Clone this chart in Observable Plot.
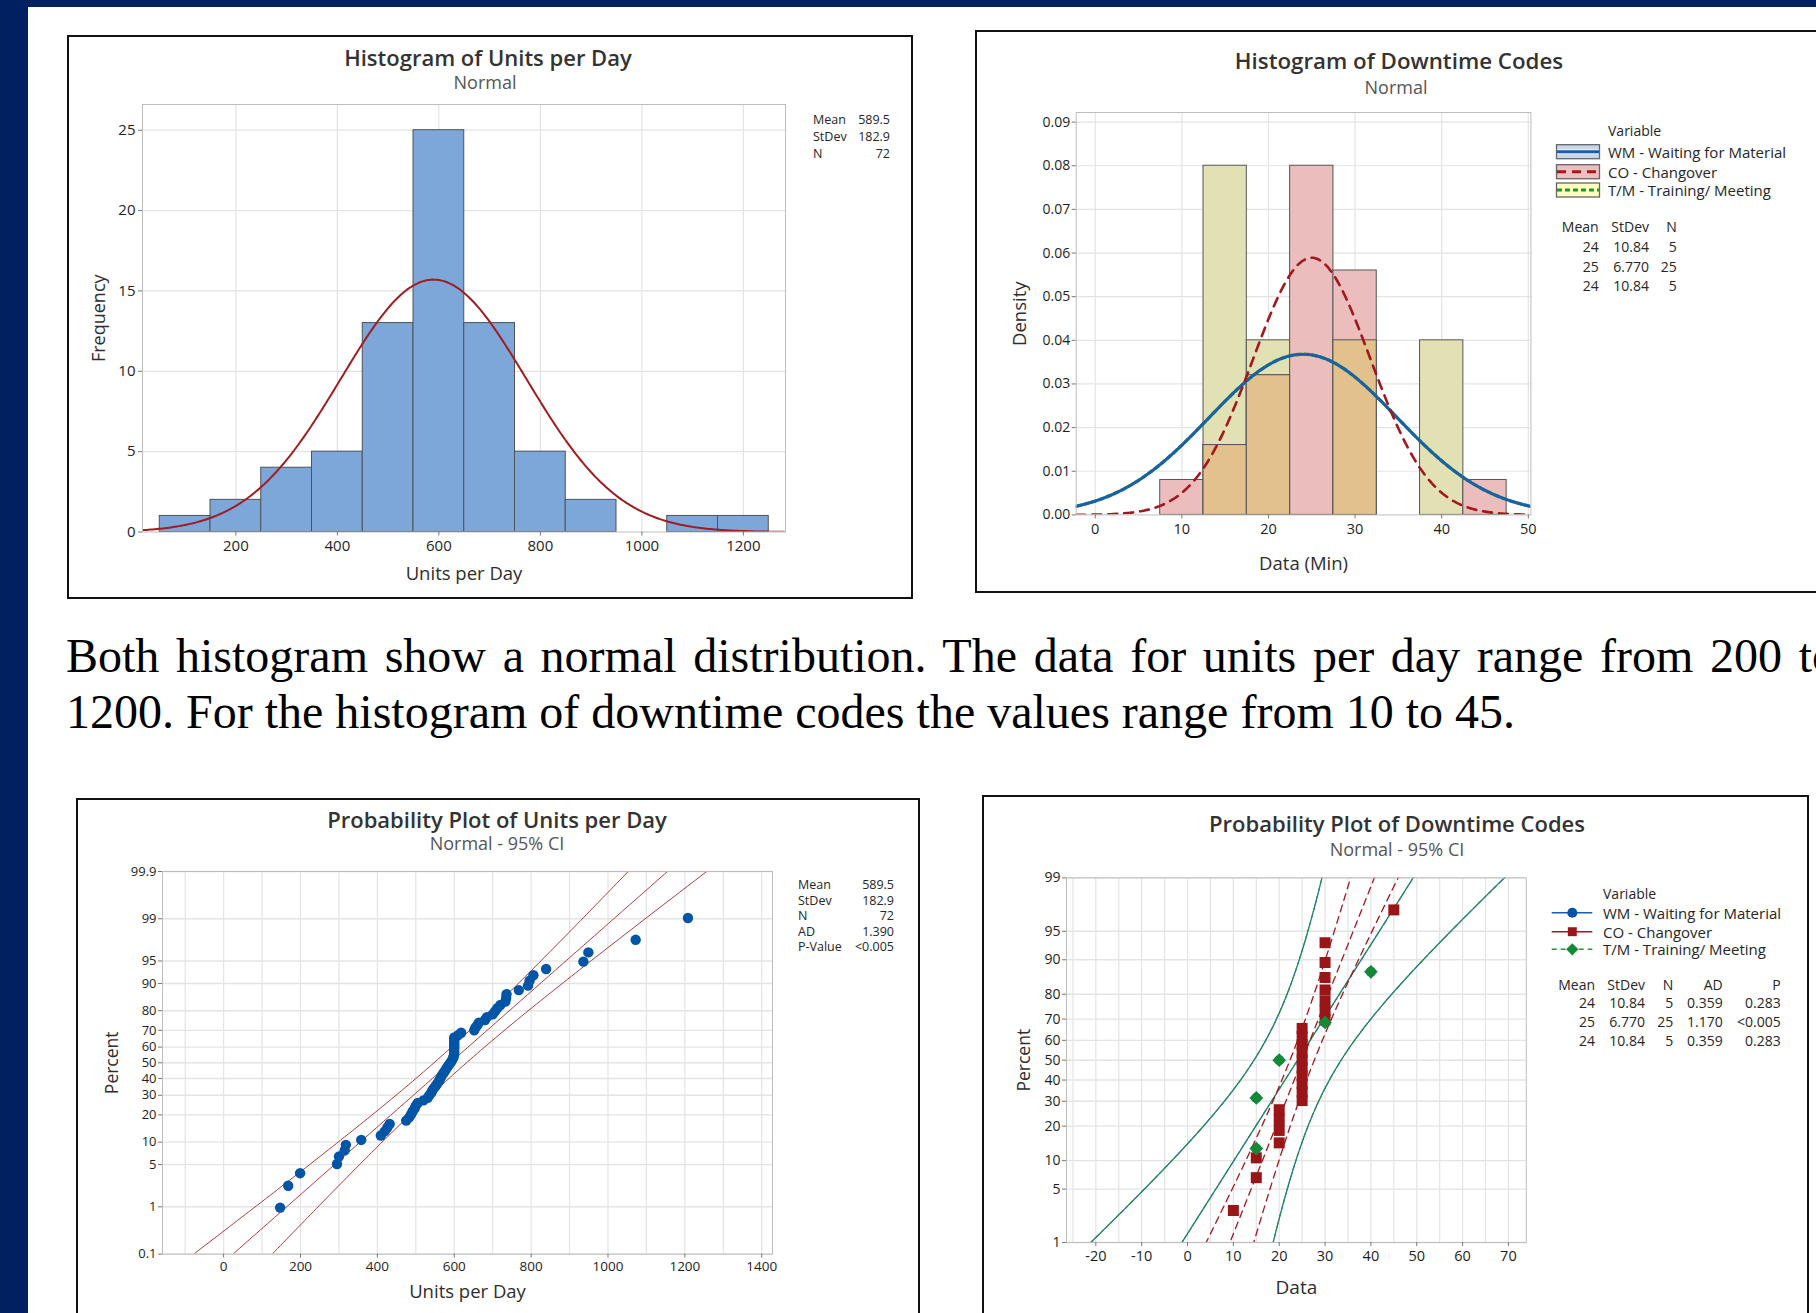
<!DOCTYPE html>
<html><head><meta charset="utf-8">
<script src="https://cdn.jsdelivr.net/npm/d3@7"></script>
<script src="https://cdn.jsdelivr.net/npm/@observablehq/plot@0.6"></script>
<style>
html,body{margin:0;padding:0;width:1816px;height:1313px;overflow:hidden;background:#fff;}
#page{position:relative;width:1816px;height:1313px;overflow:hidden;background:#fff;font-family:"Open Sans",sans-serif;}
.abs{position:absolute;box-sizing:border-box;}
.t{position:absolute;white-space:nowrap;line-height:1;}
#para{position:absolute;left:66px;top:628px;width:1770px;font-family:"Liberation Serif","Times New Roman",serif;font-size:48px;line-height:56px;text-align:justify;color:#000;}
</style></head><body><div id="page"></div>
<script>
// ================= DATA =================
// Histogram of Units per Day
const unitBinCenters = [100,200,300,400,500,600,700,800,900,1000,1100,1200];
const unitBinCounts  = [1,2,4,5,13,25,13,5,2,0,1,1];
const unitBinWidth = 100;
const unitStatLabels = ["Mean","StDev","N"];
const unitStatValues = ["589.5","182.9","72"];
const unitMean = 589.5, unitStDev = 182.9, unitN = 72;
const histXTicks1 = [200,400,600,800,1000,1200];
const histYTicks1 = [0,5,10,15,20,25];

const unitsSorted = [147,168,199,295,300,315,318,358,409,419,426,432,
  475,483,488,492,497,500,505,520,531,535,540,543,547,
  552,556,560,563,566,569,573,577,580,584,588,592,595,
  598,599,600,600,600,600,600,600,600,600,610,618,
  652,655,660,664,680,685,700,706,712,720,733,735,736,
  768,792,796,806,839,936,949,1072,1208];
const ppStatLabels3 = ["Mean","StDev","N","AD","P-Value"];
const ppStatValues3 = ["589.5","182.9","72","1.390","<0.005"];
const ppXTicks3 = [0,200,400,600,800,1000,1200,1400];
const ppXGrid3 = [-100,0,100,200,300,400,500,600,700,800,900,1000,1100,1200,1300,1400];
const probTicks3 = [0.1,1,5,10,20,30,40,50,60,70,80,90,95,99,99.9];

// Downtime codes (minutes)
const dtVariables = ["WM - Waiting for Material","CO - Changover","T/M - Training/ Meeting"];
const wmData = [15,15,20,30,40];
const coData = [10,15,15,20,20,20,20,25,25,25,25,25,25,25,25,25,25,30,30,30,30,30,30,30,45];
const tmData = [15,15,20,30,40];
const dtMeanVals = [24,25,24];
const dtSdVals = [10.84,6.770,10.84];
const dtMeans = ["24","25","24"];
const dtStDevs = ["10.84","6.770","10.84"];
const dtNs = ["5","25","5"];
const dtADs = ["0.359","1.170","0.359"];
const dtPs = ["0.283","<0.005","0.283"];
const dtBinEdges = [7.5,12.5,17.5,22.5,27.5,32.5,37.5,42.5,47.5];
const dtXTicks = [0,10,20,30,40,50];
const dtYTicks = [0,0.01,0.02,0.03,0.04,0.05,0.06,0.07,0.08,0.09];
const ppXTicks4 = [-20,-10,0,10,20,30,40,50,60,70];
const ppXGrid4 = [-25,-20,-15,-10,-5,0,5,10,15,20,25,30,35,40,45,50,55,60,65,70];
const probTicks4 = [1,5,10,20,30,40,50,60,70,80,90,95,99];

const paragraph = "Both histogram show a normal distribution. The data for units per day range from 200 to 1200. For the histogram of downtime codes the values range from 10 to 45.";

// ================= HELPERS =================
const FONT = '"Open Sans", "Noto Sans", sans-serif';
const page = document.getElementById("page");
function box(l,t,w,h,style){const d=document.createElement("div");d.className="abs";Object.assign(d.style,{left:l+"px",top:t+"px",width:w+"px",height:h+"px"},style||{});page.appendChild(d);return d;}
function txt(x,y,s,o={}){const d=document.createElement("div");d.className="t";d.textContent=s;
  const a=o.anchor||"middle";
  Object.assign(d.style,{left:x+"px",top:y+"px",fontSize:(o.size||13)+"px",color:o.color||"#262626",fontWeight:o.weight||400,fontFamily:FONT,
  transform:`translate(${a==="middle"?"-50%":a==="end"?"-100%":"0"},-50%)`});page.appendChild(d);return d;}
function place(svg,l,t){svg.style.position="absolute";svg.style.left=l+"px";svg.style.top=t+"px";page.appendChild(svg);}
function svgBox(l,t,w,h){const s=d3.create("svg").attr("width",w).attr("height",h).style("position","absolute").style("left",l+"px").style("top",t+"px").style("overflow","visible");page.appendChild(s.node());return s;}
const npdf=(x,m,s)=>Math.exp(-0.5*((x-m)/s)**2)/(s*Math.sqrt(2*Math.PI));
function probit(p){
  const a=[-3.969683028665376e+01,2.209460984245205e+02,-2.759285104469687e+02,1.383577518672690e+02,-3.066479806614716e+01,2.506628277459239e+00];
  const b=[-5.447609879822406e+01,1.615858368580409e+02,-1.556989798598866e+02,6.680131188771972e+01,-1.328068155288572e+01];
  const c=[-7.784894002430293e-03,-3.223964580411365e-01,-2.400758277161838e+00,-2.549732539343734e+00,4.374664141464968e+00,2.938163982698783e+00];
  const d=[7.784695709041462e-03,3.224671290700398e-01,2.445134137142996e+00,3.754408661907416e+00];
  const pl=0.02425;let q,r;
  if(p<pl){q=Math.sqrt(-2*Math.log(p));return (((((c[0]*q+c[1])*q+c[2])*q+c[3])*q+c[4])*q+c[5])/((((d[0]*q+d[1])*q+d[2])*q+d[3])*q+1);}
  if(p>1-pl){q=Math.sqrt(-2*Math.log(1-p));return -(((((c[0]*q+c[1])*q+c[2])*q+c[3])*q+c[4])*q+c[5])/((((d[0]*q+d[1])*q+d[2])*q+d[3])*q+1);}
  q=p-0.5;r=q*q;return (((((a[0]*r+a[1])*r+a[2])*r+a[3])*r+a[4])*r+a[5])*q/(((((b[0]*r+b[1])*r+b[2])*r+b[3])*r+b[4])*r+1);
}
const plotPos=(i,n)=>probit((i+1-0.3)/(n+0.4));
function ciSeries(m,s,n){const zs=d3.range(-4,4.001,0.05);
  const h=z=>1.96*s*Math.sqrt(1/n+z*z/(2*(n-1)));
  return {fit:zs.map(z=>({x:m+z*s,z})),lo:zs.map(z=>({x:m+z*s-h(z),z})),hi:zs.map(z=>({x:m+z*s+h(z),z}))};}
const baseStyle=(fs)=>({background:"none",fontFamily:FONT,fontSize:fs+"px",color:"#1e1e1e",maxWidth:"none",overflow:"visible"});
const GRID="#e4e4e4", FRAME="#bdbdbd", TITLE="#333";
const yLabel=(s,dx,fs)=>Plot.text([s],{text:d=>d,frameAnchor:"left",dx,rotate:-90,textAnchor:"middle",lineAnchor:"middle",fontSize:fs,fill:"#2e2e2e"});
const xLabel=(s,dy,fs)=>Plot.text([s],{text:d=>d,frameAnchor:"bottom",dy,textAnchor:"middle",lineAnchor:"middle",fontSize:fs,fill:"#2e2e2e"});

// ================= BACKGROUND =================
box(0,0,1816,7,{background:"#012060"});
box(0,0,28,1313,{background:"#012060"});

// ================= PANEL 1: Histogram of Units per Day =================
{
  const L=67,T=35,W=846,H=564;
  box(L,T,W,H,{border:"2px solid #111",background:"#fff"});
  const bins=unitBinCenters.map((c,i)=>({x1:c-unitBinWidth/2,x2:c+unitBinWidth/2,count:unitBinCounts[i]})).filter(d=>d.count>0);
  const curve=d3.range(16,1283.1,4).map(x=>({x,y:unitN*unitBinWidth*npdf(x,unitMean,unitStDev)}));
  const p=Plot.plot({width:W,height:H,marginLeft:75,marginRight:128,marginTop:69,marginBottom:67.5,style:baseStyle(15),
    x:{domain:[16,1283],axis:null},y:{domain:[0,26.6],axis:null},
    marks:[
      Plot.ruleX(histXTicks1,{stroke:GRID,strokeWidth:1.2}),
      Plot.ruleY(histYTicks1.slice(1),{stroke:GRID,strokeWidth:1.2}),
      Plot.rectY(bins,{x1:"x1",x2:"x2",y1:0,y2:"count",fill:"#7DA7D9",stroke:"#4f5257",strokeWidth:1}),
      Plot.line(curve,{x:"x",y:"y",stroke:"#A01D22",strokeWidth:2,clip:true}),
      Plot.frame({stroke:FRAME}),
      Plot.axisX({ticks:histXTicks1,tickFormat:d=>String(d),tickSize:4,tickPadding:4,label:null,stroke:"#777",fill:"#1e1e1e",fontSize:15}),
      Plot.axisY({ticks:histYTicks1,tickFormat:d=>String(d),tickSize:4,tickPadding:3,label:null,stroke:"#777",fill:"#1e1e1e",fontSize:15}),
      xLabel("Units per Day",42.5,18.5),
      yLabel("Frequency",-43.4,18)
    ]});
  place(p,L,T);
  txt(488,57,"Histogram of Units per Day",{size:22,color:TITLE,weight:600});
  txt(485,81.5,"Normal",{size:18,color:"#555"});
  unitStatLabels.forEach((s,i)=>{txt(813,120+i*17.2,s,{size:12.5,anchor:"start"});txt(890,120+i*17.2,unitStatValues[i],{size:12.5,anchor:"end"});});
}

// ================= PANEL 2: Histogram of Downtime Codes =================
{
  const L=975,T=30,W=851,H=563;
  box(L,T,W,H,{border:"2px solid #111",background:"#fff"});
  const bw=dtBinEdges[1]-dtBinEdges[0];
  const binner=d3.bin().domain([dtBinEdges[0],dtBinEdges[dtBinEdges.length-1]]).thresholds(dtBinEdges.slice(1,-1));
  const coB=binner(coData), tmB=binner(tmData);
  const rows=coB.map((b,i)=>({x1:b.x0,x2:b.x1,co:b.length/(coData.length*bw),tm:tmB[i].length/(tmData.length*bw)}));
  const xs=d3.range(-2.2,50.31,0.2);
  const cWM=xs.map(x=>({x,y:npdf(x,dtMeanVals[0],dtSdVals[0])}));
  const cCO=xs.map(x=>({x,y:npdf(x,dtMeanVals[1],dtSdVals[1])}));
  const cTM=xs.map(x=>({x,y:npdf(x,dtMeanVals[2],dtSdVals[2])}));
  const p=Plot.plot({width:W,height:H,marginLeft:100.7,marginRight:295.6,marginTop:82,marginBottom:78.6,style:baseStyle(14.5),
    x:{domain:[-2.2,50.3],axis:null},y:{domain:[0,0.0922],axis:null},
    marks:[
      Plot.ruleX(dtXTicks,{stroke:GRID,strokeWidth:1.2}),
      Plot.ruleY(dtYTicks.slice(1),{stroke:GRID,strokeWidth:1.2}),
      Plot.rectY(rows.filter(d=>d.tm>0),{x1:"x1",x2:"x2",y1:0,y2:"tm",fill:"#E1E1B4",stroke:"#555",strokeWidth:1}),
      Plot.rectY(rows.filter(d=>d.co>0),{x1:"x1",x2:"x2",y1:0,y2:"co",fill:"#EBBDBD",stroke:"#555",strokeWidth:1}),
      Plot.rectY(rows.filter(d=>d.co>0&&d.tm>0),{x1:"x1",x2:"x2",y1:0,y2:d=>Math.min(d.co,d.tm),fill:"#E3C18D",stroke:"#555",strokeWidth:1}),
      Plot.line(cTM,{x:"x",y:"y",stroke:"#2A9A3A",strokeWidth:3.4,strokeDasharray:"5,3",clip:true}),
      Plot.line(cWM,{x:"x",y:"y",stroke:"#1B5EAD",strokeWidth:2.8,clip:true}),
      Plot.line(cCO,{x:"x",y:"y",stroke:"#A3171F",strokeWidth:2.6,strokeDasharray:"9,7",clip:true}),
      Plot.frame({stroke:FRAME}),
      Plot.axisX({ticks:dtXTicks,tickFormat:d=>String(d),tickSize:4,tickPadding:5,label:null,stroke:"#777",fill:"#1e1e1e",fontSize:14.5}),
      Plot.axisY({ticks:dtYTicks,tickFormat:d3.format(".2f"),tickSize:4,tickPadding:2,label:null,stroke:"#777",fill:"#1e1e1e",fontSize:14}),
      xLabel("Data (Min)",49,18.5),
      yLabel("Density",-55.7,18.5)
    ]});
  place(p,L,T);
  txt(1399,60.5,"Histogram of Downtime Codes",{size:22.3,color:TITLE,weight:600});
  txt(1396,87,"Normal",{size:18,color:"#555"});
  txt(1608,130.7,"Variable",{size:14,anchor:"start"});
  const swFill=["#C7D7EC","#EDBFBF","#FFFFC0"], swLine=["#1B5EAD","#A3171F","#1E9B2E"], swDash=[null,"9,6","5,3"];
  const rowsY=[151.7,171.7,190];
  const sv=svgBox(1550,138,60,64);
  dtVariables.forEach((v,i)=>{
    const y=rowsY[i]-138;
    sv.append("rect").attr("x",6.5).attr("y",y-7).attr("width",43).attr("height",14).attr("fill",swFill[i]).attr("stroke","#666").attr("stroke-width",1.3);
    if(i===0){sv.append("line").attr("x1",7).attr("x2",49).attr("y1",y).attr("y2",y).attr("stroke","#fff").attr("stroke-width",5).attr("opacity",0.6);}
    sv.append("line").attr("x1",7).attr("x2",49).attr("y1",y).attr("y2",y).attr("stroke",swLine[i]).attr("stroke-width",3).attr("stroke-dasharray",swDash[i]);
    txt(1608,rowsY[i],v,{size:15,anchor:"start"});
  });
  txt(1598.7,227.3,"Mean",{size:14,anchor:"end"});txt(1649,227.3,"StDev",{size:14,anchor:"end"});txt(1676.7,227.3,"N",{size:14,anchor:"end"});
  [246.7,266.7,285.5].forEach((y,i)=>{txt(1598.7,y,dtMeans[i],{size:14,anchor:"end"});txt(1649,y,dtStDevs[i],{size:14,anchor:"end"});txt(1676.7,y,dtNs[i],{size:14,anchor:"end"});});
}

// ================= PANEL 3: Probability Plot of Units per Day =================
{
  const L=75.5,T=798,W=844,H=525;
  box(L,T,W,H,{border:"2px solid #111",background:"#fff"});
  const n=unitsSorted.length;
  const pts=unitsSorted.map((v,i)=>({x:v,z:plotPos(i,n)}));
  const ci=ciSeries(unitMean,unitStDev,unitN);
  const zT=probTicks3.map(p=>probit(p/100));
  const lab=new Map(zT.map((z,i)=>[z,String(probTicks3[i])]));
  const p=Plot.plot({width:W,height:H,marginLeft:86,marginRight:148,marginTop:73,marginBottom:69.4,style:baseStyle(13.5),
    x:{domain:[-159,1428],axis:null},y:{domain:[probit(0.001),probit(0.999)],axis:null},
    marks:[
      Plot.ruleX(ppXGrid3,{stroke:GRID,strokeWidth:1.2}),
      Plot.ruleY(zT,{stroke:GRID,strokeWidth:1.4}),
      Plot.line(ci.lo,{x:"x",y:"z",stroke:"#B03A3A",strokeWidth:1,clip:true}),
      Plot.line(ci.fit,{x:"x",y:"z",stroke:"#B03A3A",strokeWidth:1,clip:true}),
      Plot.line(ci.hi,{x:"x",y:"z",stroke:"#B03A3A",strokeWidth:1,clip:true}),
      Plot.dot(pts,{x:"x",y:"z",r:5.2,fill:"#0055A6",stroke:"none"}),
      Plot.frame({stroke:FRAME}),
      Plot.axisX({ticks:ppXTicks3,tickFormat:d=>String(d),tickSize:4,tickPadding:3,label:null,stroke:"#777",fill:"#1e1e1e",fontSize:13.5}),
      Plot.axisY({ticks:zT,tickFormat:z=>lab.get(z),tickSize:4,tickPadding:2,label:null,stroke:"#777",fill:"#1e1e1e",fontSize:13}),
      xLabel("Units per Day",38.4,18.5),
      yLabel("Percent",-50,17.5)
    ]});
  place(p,L,T);
  txt(497,819,"Probability Plot of Units per Day",{size:22,color:TITLE,weight:600});
  txt(497,843,"Normal - 95% CI",{size:18,color:"#555"});
  ppStatLabels3.forEach((s,i)=>{txt(798,885+i*15.6,s,{size:12.5,anchor:"start"});txt(894,885+i*15.6,ppStatValues3[i],{size:12.5,anchor:"end"});});
}

// ================= PANEL 4: Probability Plot of Downtime Codes =================
{
  const L=982,T=795,W=827,H=528;
  box(L,T,W,H,{border:"2px solid #111",background:"#fff"});
  const zT=probTicks4.map(p=>probit(p/100));
  const lab=new Map(zT.map((z,i)=>[z,String(probTicks4[i])]));
  const ciWM=ciSeries(dtMeanVals[0],dtSdVals[0],wmData.length);
  const ciCO=ciSeries(dtMeanVals[1],dtSdVals[1],coData.length);
  const ciTM=ciSeries(dtMeanVals[2],dtSdVals[2],tmData.length);
  const wmP=wmData.map((v,i)=>({x:v,z:plotPos(i,wmData.length)}));
  const coP=coData.map((v,i)=>({x:v,z:plotPos(i,coData.length)}));
  const tmP=tmData.map((v,i)=>({x:v,z:plotPos(i,tmData.length)}));
  const lineSet=(ci,o)=>["lo","fit","hi"].map(k=>Plot.line(ci[k],{x:"x",y:"z",clip:true,...o}));
  const p=Plot.plot({width:W,height:H,marginLeft:84,marginRight:283.2,marginTop:82.4,marginBottom:81,style:baseStyle(14.5),
    x:{domain:[-26.4,73.9],axis:null},y:{domain:[probit(0.01),probit(0.99)],axis:null},
    marks:[
      Plot.ruleX(ppXGrid4,{stroke:GRID,strokeWidth:1.2}),
      Plot.ruleY(zT,{stroke:GRID,strokeWidth:1.4}),
      ...lineSet(ciWM,{stroke:"#1B5EAD",strokeWidth:1.2}),
      ...lineSet(ciTM,{stroke:"#22963A",strokeWidth:1.2,strokeDasharray:"4,3"}),
      ...lineSet(ciCO,{stroke:"#A3171F",strokeWidth:1.3,strokeDasharray:"7,5"}),
      Plot.dot(wmP,{x:"x",y:"z",r:5,fill:"#0055A6",stroke:"none"}),
      Plot.dot(coP,{x:"x",y:"z",symbol:"square",r:6.2,fill:"#9A1518",stroke:"none"}),
      Plot.dot(tmP,{x:"x",y:"z",symbol:"diamond2",r:6.2,fill:"#148A36",stroke:"none"}),
      Plot.frame({stroke:FRAME}),
      Plot.axisX({ticks:ppXTicks4,tickFormat:d=>String(d),tickSize:4,tickPadding:4,label:null,stroke:"#777",fill:"#1e1e1e",fontSize:14.5}),
      Plot.axisY({ticks:zT,tickFormat:z=>lab.get(z),tickSize:4,tickPadding:2,label:null,stroke:"#777",fill:"#1e1e1e",fontSize:14}),
      xLabel("Data",45,19),
      yLabel("Percent",-42,17.5)
    ]});
  place(p,L,T);
  txt(1397,822.5,"Probability Plot of Downtime Codes",{size:22,color:TITLE,weight:600});
  txt(1397,849,"Normal - 95% CI",{size:18,color:"#555"});
  txt(1603,894,"Variable",{size:14,anchor:"start"});
  const lc=["#1B5EAD","#A3171F","#22963A"], ld=[null,null,"5,4"], sym=[d3.symbolCircle,d3.symbolSquare,d3.symbolDiamond2];
  const rowsY=[912.7,931.7,949.3];
  const sv=svgBox(1545,900,60,60);
  dtVariables.forEach((v,i)=>{
    const y=rowsY[i]-900;
    sv.append("line").attr("x1",6.7).attr("x2",47.3).attr("y1",y).attr("y2",y).attr("stroke",lc[i]).attr("stroke-width",1.6).attr("stroke-dasharray",ld[i]);
    sv.append("path").attr("transform",`translate(27.3,${y})`).attr("d",d3.symbol(sym[i],i===2?95:80)()).attr("fill",i===0?"#0055A6":i===1?"#9A1518":"#148A36");
    txt(1603,rowsY[i],v,{size:15,anchor:"start"});
  });
  const cols=[1595,1645,1673.3,1722.7,1780.7];
  ["Mean","StDev","N","AD","P"].forEach((h,j)=>txt(cols[j],985,h,{size:14,anchor:"end"}));
  [1003.3,1022.3,1040.8].forEach((y,i)=>{[dtMeans,dtStDevs,dtNs,dtADs,dtPs].forEach((arr,j)=>txt(cols[j],y,arr[i],{size:14,anchor:"end"}));});
}

// ================= PARAGRAPH =================
const para=document.createElement("div");para.id="para";para.textContent=paragraph;page.appendChild(para);
</script></body></html>
